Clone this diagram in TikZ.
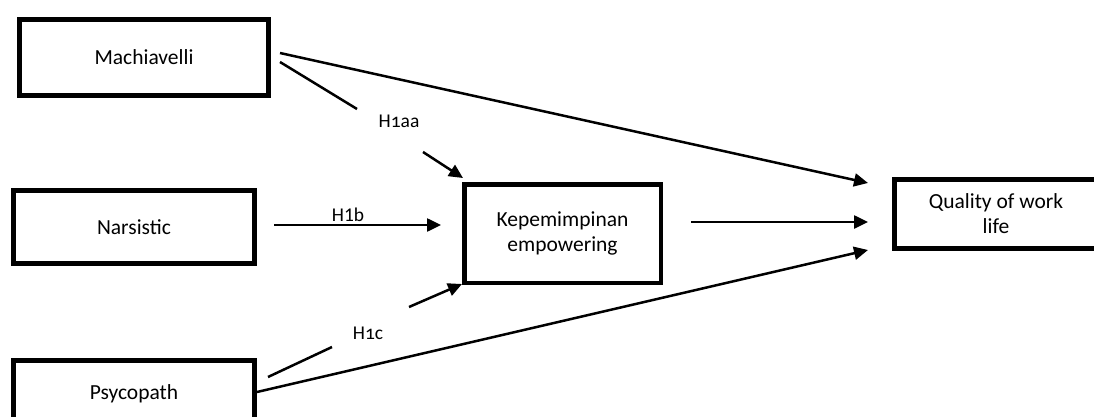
\documentclass[tikz,border=0pt]{standalone}
\usepackage{fontspec}
\setmainfont{Carlito}
\newfontfamily\osf[Numbers=OldStyle]{Carlito}
\usetikzlibrary{arrows.meta}
\begin{document}
\begin{tikzpicture}[x=1pt,y=-1pt,
  box/.style={draw, line width=5pt, inner sep=0pt, align=center,
    font=\fontsize{21.5}{25}\selectfont},
  conn/.style={line width=2.5pt},
  arr/.style={conn, -{Triangle[length=14pt,width=13pt]}},
  lbl/.style={inner sep=0pt, font=\fontsize{19.5}{22}\selectfont}]
\useasboundingbox (0,0) rectangle (1094,417);
\clip (0,0) rectangle (1094,417);
\fill[white] (0,0) rectangle (1094,417);
% boxes
\node[box, minimum width=249pt, minimum height=76.6pt] (mach) at (144,57.5) {Machiavelli};
\node[box, minimum width=241.3pt, minimum height=73pt] (nars) at (134,227) {Narsistic};
\node[box, minimum width=241.3pt, minimum height=67pt] (psy) at (134,394) {Psycopath};
\node[box, line width=4.5pt, minimum width=196.5pt, minimum height=98.5pt] (kep) at (562.5,233.5) {Kepemimpinan\\empowering};
\node[box, minimum width=203pt, minimum height=69pt] (qual) at (996,214) {Quality of work\\life};
% labels
\node[lbl] (h1aa) at (399,121.5) {{\osf H1aa}};
\node[lbl] (h1b) at (348,215) {H1b};
\node[lbl] (h1c) at (368,333.5) {{\osf H1c}};
% connector end points
\coordinate (mq1) at (280,53);
\coordinate (mq2) at (868,183);
\coordinate (mk1) at (280,62);
\coordinate (mk2) at (357,109);
\coordinate (mk3) at (423,152);
\coordinate (mk4) at (463,178);
\coordinate (nk1) at (274,225);
\coordinate (nk2) at (441,225);
\coordinate (kq1) at (691,222);
\coordinate (kq2) at (868,222);
\coordinate (pk1) at (268,377);
\coordinate (pk2) at (332,347);
\coordinate (pk3) at (409,307);
\coordinate (pk4) at (462,284);
\coordinate (pq1) at (257,392);
\coordinate (pq2) at (868,250);
% connectors
\draw[arr] (mq1) -- (mq2);
\draw[conn] (mk1) -- (mk2);
\draw[arr] (mk3) -- (mk4);
\draw[arr] (nk1) -- (nk2);
\draw[arr] (kq1) -- (kq2);
\draw[conn] (pk1) -- (pk2);
\draw[arr] (pk3) -- (pk4);
\draw[arr] (pq1) -- (pq2);
\end{tikzpicture}
\end{document}
